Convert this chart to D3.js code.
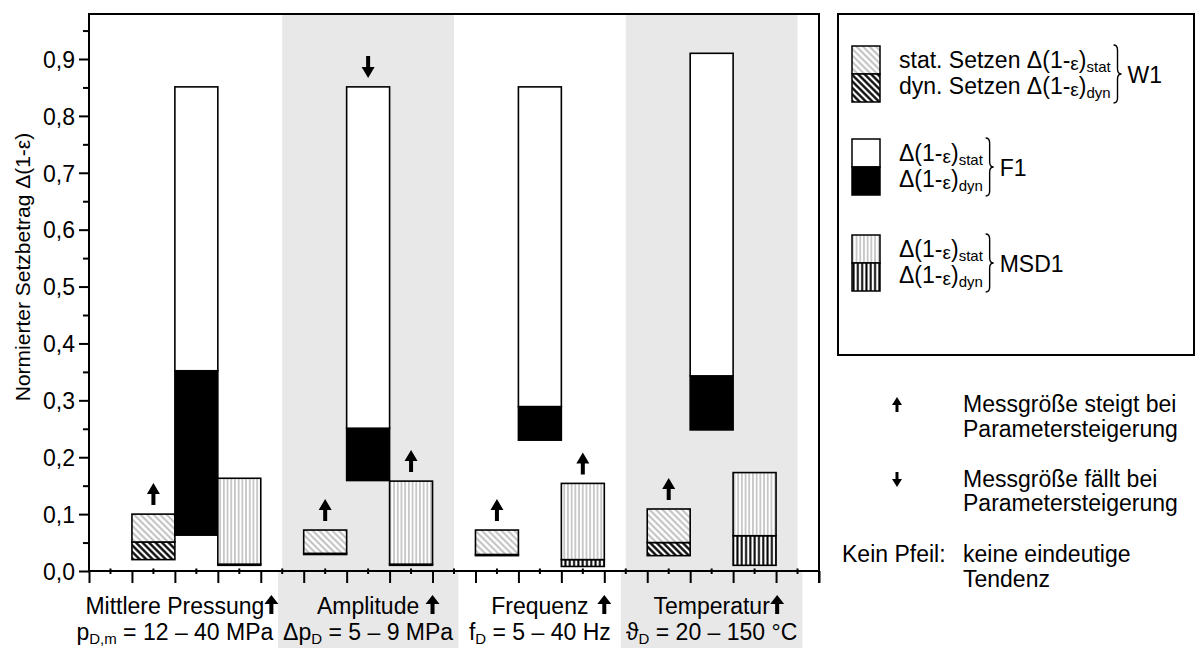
<!DOCTYPE html>
<html>
<head>
<meta charset="utf-8">
<script src="https://cdn.jsdelivr.net/npm/d3@7"></script>
<style>
  html, body { margin: 0; padding: 0; background: #fff; }
  svg { display: block; font-family: "Liberation Sans", Arial, Helvetica, sans-serif; }
</style>
</head>
<body>
<svg id="chart" width="1196" height="648"></svg>
<script>
// Parameter groups along the x axis
const categories = ["Mittlere Pressung", "Amplitude", "Frequenz", "Temperatur"];
// Second label line: symbol, subscript, range
const rangeSymbols = ["p", "Δp", "f", "ϑ"];
const rangeSubs = ["D,m", "D", "D", "D"];
const rangeTexts = [" = 12 – 40 MPa", " = 5 – 9 MPa", " = 5 – 40 Hz", " = 20 – 150 °C"];
const shadedGroups = [false, true, false, true];

const materials = ["W1", "F1", "MSD1"];
// Normalised settlement Δ(1-ε): each bar floats from its base,
// dynamic part up to dynTop, static part on top up to statTop
const w1Base    = [0.020, 0.029, 0.027, 0.027];
const w1DynTop  = [0.051, 0.031, 0.029, 0.050];
const w1StatTop = [0.100, 0.072, 0.072, 0.109];
const f1Base    = [0.063, 0.159, 0.230, 0.248];
const f1DynTop  = [0.352, 0.251, 0.289, 0.343];
const f1StatTop = [0.851, 0.851, 0.851, 0.910];
const msdBase    = [0.010, 0.010, 0.008, 0.010];
const msdDynTop  = [0.012, 0.012, 0.020, 0.062];
const msdStatTop = [0.163, 0.158, 0.154, 0.173];
// Trend of each value when the parameter is raised
const w1Trend  = ["up", "up", "up", "up"];
const f1Trend  = [null, "down", null, null];
const msdTrend = [null, "up", "up", null];

const yTicks = [0, 0.1, 0.2, 0.3, 0.4, 0.5, 0.6, 0.7, 0.8, 0.9];
const yMinorTicks = [0.05, 0.15, 0.25, 0.35, 0.45, 0.55, 0.65, 0.75, 0.85, 0.95];

// ---- layout ----
const plotLeft = 89, plotRight = 819, plotTop = 14, plotBottom = 571;
const slots = 17; // one slot per bar; 4 slots per parameter group plus lead-in
const FONT = 23, SUB = 15;

const svg = d3.select("#chart");
const x = d3.scaleLinear().domain([0, slots]).range([plotLeft, plotRight]);
const y = d3.scaleLinear().domain([0, 0.9]).range([plotBottom, 59]);

const series = [
  { base: w1Base, dyn: w1DynTop, stat: w1StatTop, fillDyn: "url(#w1dyn)", fillStat: "url(#w1stat)", trend: w1Trend },
  { base: f1Base, dyn: f1DynTop, stat: f1StatTop, fillDyn: "#000", fillStat: "#fff", trend: f1Trend },
  { base: msdBase, dyn: msdDynTop, stat: msdStatTop, fillDyn: "url(#msddyn)", fillStat: "url(#msdstat)", trend: msdTrend }
];

// ---- fill patterns ----
const defs = svg.append("defs");
function hatch(id, w, color, lw, rot) {
  const p = defs.append("pattern").attr("id", id)
    .attr("patternUnits", "userSpaceOnUse").attr("width", w).attr("height", w);
  if (rot) p.attr("patternTransform", `rotate(${rot})`);
  p.append("rect").attr("width", w).attr("height", w).attr("fill", "#fff");
  p.append("line").attr("x1", w / 2).attr("x2", w / 2).attr("y1", -1).attr("y2", w + 1)
    .attr("stroke", color).attr("stroke-width", lw);
}
hatch("w1stat", 4.6, "#b8b8b8", 1.8, -45);
hatch("w1dyn", 4.6, "#000", 2.3, -45);
hatch("msdstat", 3.7, "#b0b0b0", 1.3, 0);
hatch("msddyn", 4.3, "#000", 2.0, 0);

// ---- shaded group bands ----
const bandLayer = svg.append("g");
const groupStart = g => 4 * g + 0.5;
const groupEnd = g => 4 * g + 4.5;

// ---- arrows ----
function arrowPath(cx, yTip, len, headW, headH, shaftW, dir) {
  const s = dir === "up" ? 1 : -1;
  const yHead = yTip + s * headH, yEnd = yTip + s * len;
  return `M${cx},${yTip} L${cx + headW / 2},${yHead} L${cx + shaftW / 2},${yHead} L${cx + shaftW / 2},${yEnd}` +
         ` L${cx - shaftW / 2},${yEnd} L${cx - shaftW / 2},${yHead} L${cx - headW / 2},${yHead} Z`;
}

// ---- bars ----
const barLayer = svg.append("g");
categories.forEach((cat, g) => {
  series.forEach((s, m) => {
    const x0 = x(1 + 4 * g + m), x1 = x(2 + 4 * g + m);
    barLayer.append("rect").attr("x", x0).attr("width", x1 - x0)
      .attr("y", y(s.dyn[g])).attr("height", y(s.base[g]) - y(s.dyn[g]))
      .attr("fill", s.fillDyn).attr("stroke", "#000").attr("stroke-width", 1.6);
    barLayer.append("rect").attr("x", x0).attr("width", x1 - x0)
      .attr("y", y(s.stat[g])).attr("height", y(s.dyn[g]) - y(s.stat[g]))
      .attr("fill", s.fillStat).attr("stroke", "#000").attr("stroke-width", 1.6);
    const t = s.trend[g];
    if (t) {
      const cx = (x0 + x1) / 2, gap = 9, len = 22;
      const yBottom = y(s.stat[g]) - gap;
      const d = t === "up" ? arrowPath(cx, yBottom - len, len, 13, 11, 4, "up")
                           : arrowPath(cx, yBottom, len, 13, 11, 4, "down");
      barLayer.append("path").attr("d", d).attr("fill", "#000");
    }
  });
});

// ---- axes ----
const axisStyle = sel => {
  sel.selectAll("line").attr("stroke", "#000").attr("stroke-width", 2);
  sel.select(".domain").remove();
};
const gy = svg.append("g").attr("transform", `translate(${plotLeft},0)`)
  .call(d3.axisLeft(y).tickValues(yTicks).tickSize(10).tickPadding(4)
    .tickFormat(d => d3.format(".1f")(d).replace(".", ",")))
  .call(axisStyle);
gy.selectAll("text").attr("font-size", FONT).attr("font-family", null).attr("fill", "#000").attr("dy", "0.36em");
svg.append("g").attr("transform", `translate(${plotLeft},0)`)
  .call(d3.axisLeft(y).tickValues(yMinorTicks).tickSize(6).tickFormat(""))
  .call(axisStyle);

svg.append("g").attr("transform", `translate(0,${plotBottom})`)
  .call(d3.axisBottom(x).tickValues(d3.range(0, slots + 1)).tickSize(12).tickFormat(""))
  .call(axisStyle);
svg.append("g").selectAll("line").data(d3.range(0.5, slots, 1)).join("line")
  .attr("x1", d => x(d)).attr("x2", d => x(d))
  .attr("y1", plotBottom - 2.5).attr("y2", plotBottom + 3)
  .attr("stroke", "#000").attr("stroke-width", 2);

// axis lines and frame
const frame = svg.append("g").attr("stroke", "#000").attr("stroke-width", 2).attr("fill", "none");
frame.append("path").attr("d",
  `M${plotLeft},${plotBottom} L${plotLeft},${plotTop} L${plotRight},${plotTop} L${plotRight},${plotBottom + 12}`);
frame.append("line").attr("x1", plotLeft).attr("x2", plotRight).attr("y1", plotBottom).attr("y2", plotBottom);

// y axis title
const yTitle = svg.append("text").attr("transform", "translate(30,267) rotate(-90)")
  .attr("text-anchor", "middle").attr("font-size", 21);
yTitle.append("tspan").text("Normierter Setzbetrag Δ(1-ε)");

// ---- rich text helper ----
function addRich(parent, xPos, yPos, parts, size, anchor) {
  const t = parent.append("text").attr("x", xPos).attr("y", yPos)
    .attr("font-size", size).attr("text-anchor", anchor || "start").attr("fill", "#000");
  parts.forEach(p => {
    const s = t.append("tspan").text(p.t);
    if (p.size) s.attr("font-size", p.size);
    if (p.dy) s.attr("dy", p.dy);
  });
  return t;
}
const deltaParts = sub => [
  { t: "Δ(1-" }, { t: "ε", size: 19, dy: 2 }, { t: ")", size: FONT, dy: -2 }, { t: sub, size: SUB, dy: 4 }
];

// ---- group labels under the axis ----
const labelLayer = svg.append("g");
categories.forEach((cat, g) => {
  // the first label sits left of its bars so it clears the neighbouring group
  const cx = x(g === 0 ? 2 : 2.5 + 4 * g);
  const l1 = addRich(labelLayer, cx, 614, [{ t: cat }], FONT, "middle");
  const l2 = addRich(labelLayer, cx, 640,
    [{ t: rangeSymbols[g] }, { t: rangeSubs[g], size: SUB, dy: 4 }, { t: rangeTexts[g], size: FONT, dy: -4 }],
    FONT, "middle");
  const b1 = l1.node().getBBox(), b2 = l2.node().getBBox();
  const ax = Math.max(x(4 + 4 * g), b1.x + b1.width + 7);
  labelLayer.append("path").attr("d", arrowPath(ax, 595, 19, 14, 9, 4, "up")).attr("fill", "#000");
  if (shadedGroups[g]) {
    const xa = x(groupStart(g)), xb = x(groupEnd(g));
    bandLayer.append("rect").attr("x", xa).attr("y", plotTop).attr("width", xb - xa)
      .attr("height", plotBottom - plotTop).attr("fill", "#e8e8e8");
    const la = Math.min(xa, b2.x - 5), lb = Math.max(xb, b2.x + b2.width + 5);
    bandLayer.append("rect").attr("x", la).attr("y", plotBottom).attr("width", lb - la)
      .attr("height", 648 - plotBottom).attr("fill", "#e8e8e8");
  }
});

// ---- legend box ----
const lg = svg.append("g");
lg.append("rect").attr("x", 838).attr("y", 14).attr("width", 356).attr("height", 341)
  .attr("fill", "#fff").attr("stroke", "#000").attr("stroke-width", 2);

function brace(xb, y1, y2) {
  const w = 8, r = 5, ym = (y1 + y2) / 2, xm = xb + w / 2;
  return `M${xb},${y1} Q${xm},${y1} ${xm},${y1 + r} L${xm},${ym - r} Q${xm},${ym} ${xb + w},${ym}` +
         ` Q${xm},${ym} ${xm},${ym + r} L${xm},${y2 - r} Q${xm},${y2} ${xb},${y2}`;
}

const legendRows = [
  { name: materials[0], top: 46, lines: ["stat. Setzen ", "dyn. Setzen "], s: series[0] },
  { name: materials[1], top: 139, lines: ["", ""], s: series[1] },
  { name: materials[2], top: 235, lines: ["", ""], s: series[2] }
];
legendRows.forEach(row => {
  const sw = 28, sh = 28;
  lg.append("rect").attr("x", 852).attr("y", row.top).attr("width", sw).attr("height", sh)
    .attr("fill", row.s.fillStat).attr("stroke", "#000").attr("stroke-width", 1.5);
  lg.append("rect").attr("x", 852).attr("y", row.top + sh).attr("width", sw).attr("height", sh)
    .attr("fill", row.s.fillDyn).attr("stroke", "#000").attr("stroke-width", 1.5);
  const t1 = addRich(lg, 899, row.top + 22, (row.lines[0] ? [{ t: row.lines[0] }] : []).concat(deltaParts("stat")), FONT);
  const t2 = addRich(lg, 899, row.top + 48, (row.lines[1] ? [{ t: row.lines[1] }] : []).concat(deltaParts("dyn")), FONT);
  const b1 = t1.node().getBBox(), b2 = t2.node().getBBox();
  const xb = Math.max(b1.x + b1.width, b2.x + b2.width) + 2;
  lg.append("path").attr("d", brace(xb, row.top - 1, row.top + 57))
    .attr("fill", "none").attr("stroke", "#000").attr("stroke-width", 1.4);
  addRich(lg, xb + 14, row.top + 37, [{ t: row.name }], FONT);
});

// ---- arrow key ----
lg.append("path").attr("d", arrowPath(897, 397, 15, 10, 8, 3, "up")).attr("fill", "#000");
addRich(lg, 963, 412, [{ t: "Messgröße steigt bei" }], FONT);
addRich(lg, 963, 437, [{ t: "Parametersteigerung" }], FONT);
lg.append("path").attr("d", arrowPath(897, 487, 15, 10, 8, 3, "down")).attr("fill", "#000");
addRich(lg, 963, 487, [{ t: "Messgröße fällt bei" }], FONT);
addRich(lg, 963, 511, [{ t: "Parametersteigerung" }], FONT);
addRich(lg, 842, 562, [{ t: "Kein Pfeil:" }], FONT);
addRich(lg, 963, 562, [{ t: "keine eindeutige" }], FONT);
addRich(lg, 963, 587, [{ t: "Tendenz" }], FONT);
</script>
</body>
</html>
